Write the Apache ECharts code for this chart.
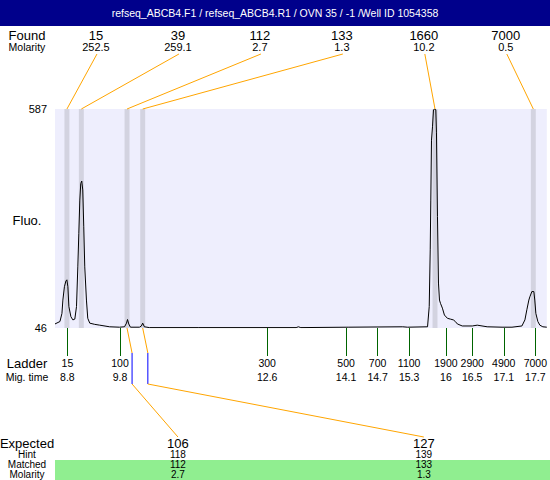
<!DOCTYPE html>
<html><head><meta charset="utf-8">
<script src="https://cdn.jsdelivr.net/npm/echarts@6/dist/echarts.min.js"></script>
<style>html,body{margin:0;padding:0;background:#fff}#c{width:550px;height:480px}</style>
</head><body><div id="c"></div>
<script>
// ---------- data ----------
const titleText = 'refseq_ABCB4.F1 / refseq_ABCB4.R1 / OVN 35 / -1 /Well ID 1054358';
const traceTimes = [8.564,8.658,8.696,8.714,8.743,8.771,8.790,8.809,8.828,8.866,8.904,8.941,8.973,8.998,9.017,9.036,9.054,9.073,9.092,9.111,9.130,9.162,9.187,9.225,9.319,9.414,9.603,9.792,9.886,9.924,9.943,9.967,9.999,10.170,10.207,10.232,10.264,10.359,11.300,13.150,13.194,13.240,14.140,15.178,15.270,15.650,15.682,15.701,15.712,15.725,15.744,15.763,15.790,15.807,15.820,15.839,15.858,15.877,15.896,15.933,15.971,16.028,16.084,16.141,16.179,16.217,16.310,16.500,16.595,16.784,17.067,17.256,17.445,17.502,17.539,17.577,17.596,17.634,17.672,17.690,17.710,17.748,17.786,17.843,17.918];
const traceFluo  = [56,62,82,115,148,162,165,148,99,74,66,68,99,197,280,362,403,409,387,296,197,115,70,58,55,53,49,48,49,58,67,56,48,48,51,58,49,47,47,47,49,47,48,49,48,49,99,239,362,510,543,585,587,585,528,321,157,115,107,95,78,70,68,66,62,56,51,51,53,49,48,48,51,66,91,115,123,136,136,115,82,62,53,49,48];
const fluoRange = [46, 587];
const timeRange = [8.564, 17.918];
const foundSizes = [15, 39, 112, 133, 1660, 7000];
const foundMolarity = ['252.5', '259.1', '2.7', '1.3', '10.2', '0.5'];
const foundTimes = [8.791, 9.065, 9.934, 10.232, 15.792, 17.662];
const ladderSizes = [15, 100, 300, 500, 700, 1100, 1900, 2900, 4900, 7000];
const ladderTimes = [8.8, 9.8, 12.6, 14.1, 14.7, 15.3, 16, 16.5, 17.1, 17.7];
const expectedSizes = [106, 127];
const hintSizes = [118, 139];
const hintTimes = [10.03, 10.33];
const matchedSizes = [112, 133];
const matchedMolarity = ['2.7', '1.3'];
const matchedTimes = [9.934, 10.232];

// ---------- layout / style ----------
const FONT = '"Liberation Sans", Arial, Helvetica, sans-serif';
const ORANGE = '#ffa500';
const BLUE = '#0000ff';
const BAND_HALF = 0.047;

function f(size) { return size + 'px ' + FONT; }
function txt(text, x, y, size, extra) {
  return Object.assign({ type: 'text', style: {
    text: String(text), x: x, y: y, font: f(size), fill: '#000',
    align: 'center', textAlign: 'center', verticalAlign: 'middle', textVerticalAlign: 'middle'
  } }, extra || {});
}

const chart = echarts.init(document.getElementById('c'), null, { renderer: 'svg' });

const option = {
  animation: false,
  backgroundColor: '#ffffff',
  textStyle: { fontFamily: FONT },
  grid: { left: 55, right: 0, top: 109, bottom: 152, show: true, backgroundColor: '#eeeefd', borderWidth: 0 },
  xAxis: {
    type: 'value', min: timeRange[0], max: timeRange[1],
    axisLine: { show: false },
    splitLine: { show: false },
    axisTick: { show: true, customValues: ladderTimes, length: 28, lineStyle: { color: '#006400', width: 1 } },
    axisLabel: {
      show: true, customValues: ladderTimes, margin: 28, color: '#000',
      formatter: function (v) {
        let k = 0, best = Infinity;
        ladderTimes.forEach(function (t, j) { const d = Math.abs(t - v); if (d < best) { best = d; k = j; } });
        return '{a|' + ladderSizes[k] + '}\n{a|' + ladderTimes[k] + '}';
      },
      rich: { a: { fontSize: 10.5, lineHeight: 14, color: '#000', fontFamily: FONT } }
    }
  },
  yAxis: {
    type: 'value', min: fluoRange[0], max: fluoRange[1],
    axisLine: { show: false }, axisTick: { show: false }, splitLine: { show: false },
    axisLabel: { customValues: fluoRange, margin: 8, fontSize: 11, color: '#000', fontFamily: FONT }
  },
  graphic: [
    { type: 'rect', shape: { x: 0, y: 0, width: 550, height: 26 }, style: { fill: '#00008b' }, z: 0 },
    { type: 'text', z: 1, style: { text: titleText, x: 275, y: 13, font: f(10.5), fill: '#fff', align: 'center', textAlign: 'center', verticalAlign: 'middle', textVerticalAlign: 'middle' } },
    { type: 'rect', shape: { x: 55, y: 460, width: 495, height: 20 }, style: { fill: '#90ee90' }, z: 0 },
    txt('Found', 27, 35, 13),
    txt('Molarity', 27, 47, 10.5),
    txt('Fluo.', 27, 220, 13),
    txt('Ladder', 27, 363, 13),
    txt('Mig. time', 27, 377, 10.5),
    txt('Expected', 27, 443, 13),
    txt('Hint', 27, 454.5, 10),
    txt('Matched', 27, 464.5, 10),
    txt('Molarity', 27, 474.5, 10)
  ],
  series: [
    {
      type: 'line', name: 'trace',
      data: traceTimes.map(function (t, i) { return [t, traceFluo[i]]; }),
      showSymbol: false, symbol: 'none',
      lineStyle: { color: '#000', width: 1 },
      z: 5,
      markArea: {
        silent: true,
        itemStyle: { color: '#d3d3e0' },
        data: foundTimes.map(function (t) { return [{ xAxis: t - BAND_HALF }, { xAxis: t + BAND_HALF }]; })
      }
    },
    {
      type: 'custom', name: 'found',
      data: foundTimes.map(function (t) { return [t, fluoRange[1]]; }),
      encode: { x: 0, y: 1 },
      z: 6,
      renderItem: function (params, api) {
        const i = params.dataIndex;
        const cs = params.coordSys;
        const n = foundTimes.length;
        const lx = cs.x + cs.width * (i + 0.5) / n;
        const px = api.coord([api.value(0), fluoRange[1]])[0];
        return { type: 'group', children: [
          { type: 'line', shape: { x1: lx + 1, y1: 54, x2: px, y2: cs.y }, style: { stroke: ORANGE, lineWidth: 1 } },
          txt(foundSizes[i], lx, 35, 13),
          txt(foundMolarity[i], lx, 47, 11)
        ] };
      }
    },
    {
      type: 'custom', name: 'expected',
      data: matchedTimes.map(function (t, i) { return [t, fluoRange[0], hintTimes[i]]; }),
      encode: { x: 0, y: 1 },
      z: 6,
      renderItem: function (params, api) {
        const i = params.dataIndex;
        const cs = params.coordSys;
        const n = matchedTimes.length;
        const bottom = cs.y + cs.height;
        const lx = cs.x + cs.width * (i + 0.5) / n;
        const px = api.coord([api.value(0), fluoRange[0]])[0];
        const hx = api.coord([api.value(2), fluoRange[0]])[0];
        return { type: 'group', children: [
          { type: 'polyline', shape: { points: [[px, bottom], [hx, bottom + 25]] }, style: { stroke: ORANGE, lineWidth: 1, fill: null } },
          { type: 'line', shape: { x1: hx, y1: bottom + 25, x2: hx, y2: bottom + 56 }, style: { stroke: BLUE, lineWidth: 1 } },
          { type: 'line', shape: { x1: hx, y1: bottom + 56, x2: lx, y2: 437 }, style: { stroke: ORANGE, lineWidth: 1 } },
          txt(expectedSizes[i], lx, 443, 13),
          txt(hintSizes[i], lx, 454.5, 10),
          txt(matchedSizes[i], lx, 464.5, 10),
          txt(matchedMolarity[i], lx, 474.5, 10)
        ] };
      }
    }
  ]
};
chart.setOption(option);
</script>
</body></html>
